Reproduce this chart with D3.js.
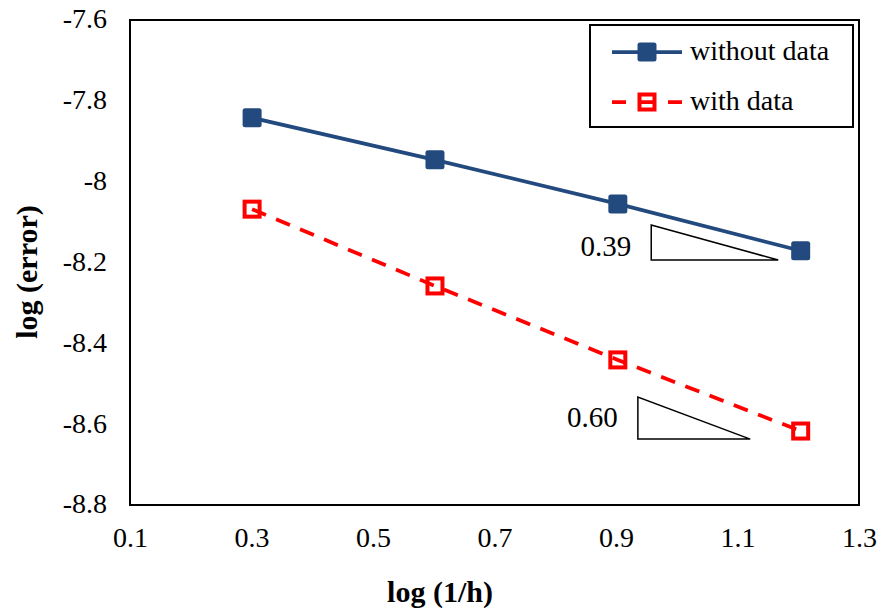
<!DOCTYPE html>
<html><head><meta charset="utf-8">
<script src="https://cdn.jsdelivr.net/npm/d3@7"></script>
<style>body{margin:0;background:#fff}svg{display:block}svg text{font-family:"Liberation Serif","Times New Roman",serif;fill:#000}</style>
</head><body><svg id="c" width="879" height="611"></svg>
<script>
const xVals = [0.301, 0.602, 0.903, 1.204];
const withoutData = [-7.842, -7.946, -8.055, -8.171];
const withData = [-8.068, -8.258, -8.441, -8.617];
const xTicks = [0.1, 0.3, 0.5, 0.7, 0.9, 1.1, 1.3];
const yTicks = [-7.6, -7.8, -8, -8.2, -8.4, -8.6, -8.8];
const seriesNames = ["without data", "with data"];
const slopeLabels = ["0.39", "0.60"];
// slope triangles in data coords: [xLeft, yTop, xRight, yBottom]
const triangles = [[0.958, -8.107, 1.167, -8.194], [0.936, -8.533, 1.121, -8.637]];

const svg = d3.select("#c");
const L = 130, R = 859, T = 20, B = 505;
const x = d3.scaleLinear().domain([0.1, 1.3]).range([L, R]);
const y = d3.scaleLinear().domain([-8.8, -7.6]).range([B, T]);
const blue = "#234a7e", red = "#ff0000";

svg.append("rect").attr("x", L).attr("y", T).attr("width", R - L).attr("height", B - T)
  .attr("fill", "none").attr("stroke", "#000").attr("stroke-width", 2);

const xa = svg.append("g").attr("transform", `translate(0,${B})`)
  .call(d3.axisBottom(x).tickValues(xTicks).tickSize(0).tickFormat(d => String(d)));
xa.select(".domain").remove();
xa.selectAll("text").attr("font-size", 28).attr("y", 42).attr("dy", 0);

const ya = svg.append("g").attr("transform", `translate(${L},0)`)
  .call(d3.axisLeft(y).tickValues(yTicks).tickSize(0).tickPadding(23).tickFormat(d => String(d)));
ya.select(".domain").remove();
ya.selectAll("text").attr("font-size", 28).attr("dy", "0.28em");

svg.append("text").attr("x", 440).attr("y", 602).attr("text-anchor", "middle")
  .attr("font-weight", "bold").attr("font-size", 30).text("log (1/h)");
svg.append("text").attr("transform", "translate(37,272) rotate(-90)").attr("text-anchor", "middle")
  .attr("font-weight", "bold").attr("font-size", 30).text("log (error)");

// slope triangles
const labelDy = [14, 9];
triangles.forEach((t, i) => {
  const [x0, y0, x1, y1] = t;
  svg.append("path").attr("d", `M${x(x0)},${y(y0)}L${x(x0)},${y(y1)}L${x(x1)},${y(y1)}Z`)
    .attr("fill", "none").attr("stroke", "#000").attr("stroke-width", 1.5);
  svg.append("text").attr("x", x(x0) - 20).attr("y", (y(y0) + y(y1)) / 2 + labelDy[i]).attr("text-anchor", "end")
    .attr("font-size", 29).text(slopeLabels[i]);
});

const line = d3.line().x(d => x(d[0])).y(d => y(d[1]));
const s1 = xVals.map((v, i) => [v, withoutData[i]]);
const s2 = xVals.map((v, i) => [v, withData[i]]);

svg.append("path").datum(s1).attr("d", line).attr("fill", "none").attr("stroke", blue).attr("stroke-width", 3.75);
svg.selectAll(".m1").data(s1).enter().append("rect")
  .attr("x", d => x(d[0]) - 9.5).attr("y", d => y(d[1]) - 9.5).attr("width", 19).attr("height", 19)
  .attr("rx", 2.5).attr("fill", blue);

svg.append("path").datum(s2).attr("d", line).attr("fill", "none").attr("stroke", red)
  .attr("stroke-width", 3.75).attr("stroke-dasharray", "15,11");
svg.selectAll(".m2").data(s2).enter().append("rect")
  .attr("x", d => x(d[0]) - 7.5).attr("y", d => y(d[1]) - 7.5).attr("width", 15).attr("height", 15)
  .attr("fill", "none").attr("stroke", red).attr("stroke-width", 4);

// legend
svg.append("rect").attr("x", 590).attr("y", 25).attr("width", 263).attr("height", 102)
  .attr("fill", "#fff").attr("stroke", "#000").attr("stroke-width", 2);
const ly = [52, 102];
svg.append("line").attr("x1", 612).attr("x2", 682).attr("y1", ly[0]).attr("y2", ly[0]).attr("stroke", blue).attr("stroke-width", 3.75);
svg.append("rect").attr("x", 637.5).attr("y", ly[0] - 9.5).attr("width", 19).attr("height", 19).attr("rx", 2.5).attr("fill", blue);
svg.append("line").attr("x1", 612).attr("x2", 682).attr("y1", ly[1]).attr("y2", ly[1]).attr("stroke", red).attr("stroke-width", 3.75).attr("stroke-dasharray", "14,14");
svg.append("rect").attr("x", 639.5).attr("y", ly[1] - 7.5).attr("width", 15).attr("height", 15).attr("fill", "none").attr("stroke", red).attr("stroke-width", 4);
seriesNames.forEach((n, i) => {
  svg.append("text").attr("x", 690).attr("y", ly[i] + 8).attr("font-size", 28).text(n);
});
</script></body></html>
